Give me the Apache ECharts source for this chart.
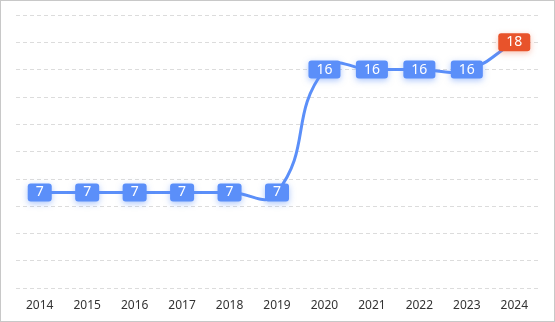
<!DOCTYPE html>
<html>
<head>
<meta charset="utf-8">
<script src="https://cdn.jsdelivr.net/npm/echarts@6/dist/echarts.min.js"></script>
<style>
html,body{margin:0;padding:0;background:#fff;}
#wrap{width:555px;height:322px;box-sizing:border-box;border:1px solid #c8c8c8;}
#chart{width:553px;height:320px;}
</style>
</head>
<body>
<div id="wrap"><div id="chart"></div></div>
<script>
const years = ['2014','2015','2016','2017','2018','2019','2020','2021','2022','2023','2024'];
const values = [7,7,7,7,7,7,16,16,16,16,18];
const highlightIndex = 10;

const SMOOTH = 0.5;
const LINE_COLOR = '#5B8FF9';

const chart = echarts.init(document.getElementById('chart'));
const seriesData = values.map((v, i) => i === highlightIndex ? {
  value: v,
  label: {backgroundColor: '#E8532B', shadowColor: 'rgba(232,83,43,0.35)'}
} : v);

// Unconstrained cardinal-style bezier smoothing (classic ECharts 4 behaviour),
// computed from points mapped through the chart's own axes.
function renderSmoothLine(params, api) {
  if (params.dataIndex !== 0) return;
  const pts = values.map((v, i) => api.coord([i, v]));
  const n = pts.length;
  const cps = [];
  for (let i = 0; i < n; i++) {
    const p = pts[i];
    const prev = pts[i - 1] || p;
    const next = pts[i + 1] || p;
    const vx = (next[0] - prev[0]) * SMOOTH;
    const vy = (next[1] - prev[1]) * SMOOTH;
    let d0 = Math.hypot(p[0] - prev[0], p[1] - prev[1]);
    let d1 = Math.hypot(p[0] - next[0], p[1] - next[1]);
    const sum = d0 + d1;
    if (sum !== 0) { d0 /= sum; d1 /= sum; }
    cps.push([p[0] - vx * d0, p[1] - vy * d0]);
    cps.push([p[0] + vx * d1, p[1] + vy * d1]);
  }
  const children = [];
  for (let i = 1; i < n; i++) {
    const c1 = cps[2 * i - 1];
    const c2 = cps[2 * i];
    children.push({
      type: 'bezierCurve',
      shape: {
        x1: pts[i - 1][0], y1: pts[i - 1][1],
        x2: pts[i][0], y2: pts[i][1],
        cpx1: c1[0], cpy1: c1[1],
        cpx2: c2[0], cpy2: c2[1]
      },
      style: {stroke: LINE_COLOR, lineWidth: 3, fill: null, lineCap: 'round'}
    });
  }
  return {type: 'group', children: children};
}

chart.setOption({
  animation: false,
  grid: {left: 15, right: 16, top: 14, bottom: 33},
  xAxis: {
    type: 'category',
    data: years,
    boundaryGap: true,
    axisLine: {show: false},
    axisTick: {show: false},
    axisLabel: {color: '#333', fontSize: 12, fontFamily: 'Noto Sans', margin: 12}
  },
  yAxis: {
    type: 'value',
    min: 0, max: 20, interval: 2,
    axisLabel: {show: false},
    axisLine: {show: false},
    axisTick: {show: false},
    splitLine: {lineStyle: {type: [4, 3], color: '#dcdcdc', width: 1}}
  },
  series: [{
    type: 'custom',
    z: 1,
    data: [[0, values[0]]],
    renderItem: renderSmoothLine,
    silent: true
  }, {
    type: 'line',
    z: 3,
    data: seriesData,
    symbol: 'circle',
    symbolSize: 1,
    lineStyle: {opacity: 0, width: 0},
    itemStyle: {color: LINE_COLOR},
    label: {
      show: true,
      position: 'inside',
      color: '#fff',
      fontSize: 14,
      fontFamily: 'Noto Sans',
      lineHeight: 14,
      backgroundColor: LINE_COLOR,
      borderRadius: 3,
      padding: [2, 8],
      shadowColor: 'rgba(91,143,249,0.5)',
      shadowBlur: 6,
      shadowOffsetY: 2
    }
  }]
});
</script>
</body>
</html>
